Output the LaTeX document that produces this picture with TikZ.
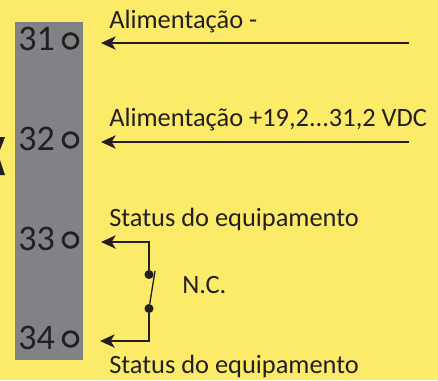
\documentclass[tikz,border=0pt]{standalone}
\usepackage{fontspec}
\setmainfont{Carlito}
\usetikzlibrary{arrows.meta}
\definecolor{bgy}{RGB}{252,235,105}
\definecolor{barg}{RGB}{128,130,133}
\definecolor{ink}{RGB}{35,31,32}
\tikzset{
  px/.style={x=0.75pt,y=-0.75pt},
  lab/.style={anchor=base west,inner sep=0pt,text=ink,font=\fontsize{19.8pt}{22pt}\selectfont},
  num/.style={anchor=base west,inner sep=0pt,text=ink,font=\fontsize{27pt}{30pt}\selectfont},
  term/.style={circle,draw=ink,line width=2.1pt,minimum size=11pt,inner sep=0pt},
  wire/.style={draw=ink,line width=1pt},
  arr/.style={wire,{Stealth[length=11pt,width=10pt,inset=3pt]}-},
  dot/.style={circle,fill=ink,minimum size=6.8pt,inner sep=0pt}
}
\begin{document}
\begin{tikzpicture}[px]
\useasboundingbox (0,0) rectangle (438,380);
\fill[bgy] (0,0) rectangle (438,380);
\fill[barg] (15,22) rectangle (83,360);
\fill[ink] (0,137) -- (5,137) -- (0,150) -- cycle;
\fill[ink] (0,160) -- (5,175) -- (0,175) -- cycle;
\node[num] (n31) at (18,50) {31};
\node[num] (n32) at (18,150) {32};
\node[num] (n33) at (18,250) {33};
\node[num] (n34) at (18,349) {34};
\node[term] (t31) at (70.5,41) {};
\node[term] (t32) at (70.5,140) {};
\node[term] (t33) at (70.5,240) {};
\node[term] (t34) at (70.5,339) {};
\coordinate (e31) at (409,43);
\coordinate (e32) at (409,142);
\coordinate (h31) at (101,43);
\coordinate (h32) at (101,142);
\coordinate (h33) at (101,242);
\coordinate (h34) at (100,341);
\coordinate (c33) at (149,242);
\coordinate (c34) at (149,341);
\node[dot] (d1) at (149,274.5) {};
\node[dot] (d2) at (149,308.5) {};
\coordinate (sw) at (155,271);
\draw[arr] (h31) -- (e31);
\draw[arr] (h32) -- (e32);
\draw[arr] (h33) -- (c33) -- (d1);
\draw[arr] (h34) -- (c34) -- (d2);
\draw[wire] (d2) -- (sw);
\node[lab] (a1) at (109,28) {Alimentação -};
\node[lab] (a2) at (109,126) {Alimentação +19,2...31,2 VDC};
\node[lab] (s1) at (109,226) {Status do equipamento};
\node[lab] (s2) at (109,373) {Status do equipamento};
\node[lab] (nc) at (182,293) {N.C.};
\end{tikzpicture}
\end{document}
